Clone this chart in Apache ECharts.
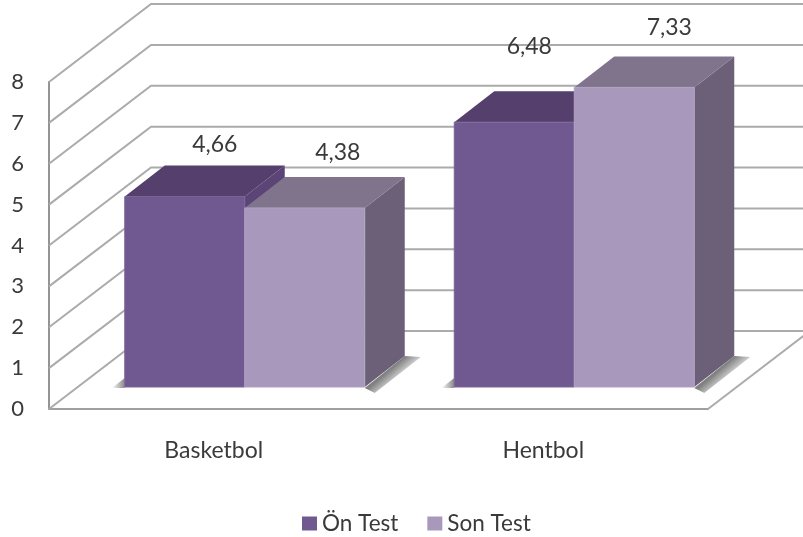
<!DOCTYPE html>
<html>
<head>
<meta charset="utf-8">
<style>
  html, body { margin: 0; padding: 0; background: #fff; }
  #main { width: 803px; height: 537px; }
</style>
<script src="https://cdn.jsdelivr.net/npm/echarts@6/dist/echarts.min.js"></script>
</head>
<body>
<div id="main"></div>
<script>
  const categories = ['Basketbol', 'Hentbol'];
  const onTest = [4.66, 6.48];
  const sonTest = [4.38, 7.33];
  const yTicks = [0, 1, 2, 3, 4, 5, 6, 7, 8];

  const fontName = 'Lato';
  const textColor = '#3a3a3a';
  const lineColor = '#ababab';

  // 3d look: wall depth and how far the bars sit inside the floor
  const wallDx = 102, wallDy = -78;
  const barInX = 31, barInY = -22;
  const barDx = 40, barDy = -31;
  const barShare = 120 / 329.5;

  // labels are hand placed in the original, not centered on the bars
  const onLabelShift = [[0, -32], [-15, -56]];
  const sonLabelShift = [[3, -35], [5, -40]];

  function fmt(v) {
    return String(v).replace('.', ',');
  }

  function poly(points, fill, z2) {
    return { type: 'polygon', z2: z2 || 0, shape: { points: points }, style: { fill: fill } };
  }

  function wallItem(params, api) {
    const left = params.coordSys.x;
    const y = api.coord([0, api.value(1)])[1];
    return {
      type: 'polyline',
      shape: { points: [[left, y], [left + wallDx, y + wallDy], [left + wallDx + 700, y + wallDy]] },
      style: { stroke: lineColor, lineWidth: 2, fill: null }
    };
  }

  function floorEdge(params) {
    const right = params.coordSys.x + params.coordSys.width;
    const bottom = params.coordSys.y + params.coordSys.height;
    return {
      type: 'group',
      children: [
        poly([[right, bottom], [right + wallDx, bottom + wallDy], [right + wallDx + 20, bottom + wallDy], [right + 20, bottom]], '#ffffff'),
        {
          type: 'line',
          shape: { x1: right, y1: bottom, x2: right + wallDx, y2: bottom + wallDy },
          style: { stroke: lineColor, lineWidth: 2 }
        }
      ]
    };
  }

  function barItem(colors, side, shifts) {
    return function (params, api) {
      const idx = api.value(0);
      const v = api.value(1);
      const w = api.size([1, 0])[0] * barShare;
      const center = api.coord([idx, 0])[0];
      const x0 = center + barInX + (side < 0 ? -w : 0);
      const x1 = x0 + w;
      const yBase = api.coord([idx, 0])[1] + barInY;
      const yTop = api.coord([idx, v])[1] + barInY;
      const children = [];

      // soft floor shadow
      if (side < 0) {
        children.push(poly([[x0 - 13, yBase + 1], [x0, yBase + 1], [x0, yBase - 9]], {
          type: 'linear', x: 1, y: 0, x2: 0, y2: 0,
          colorStops: [{ offset: 0, color: '#888' }, { offset: 1, color: '#fff' }]
        }));
      } else {
        children.push(poly([[x1, yBase + 1], [x1 + barDx, yBase + barDy], [x1 + barDx + 16, yBase + barDy + 1], [x1 + 10, yBase + 6]], {
          type: 'linear', x: 0.35, y: 0.5, x2: 0.55, y2: 0.85,
          colorStops: [{ offset: 0, color: '#808080' }, { offset: 1, color: '#fff' }]
        }));
      }

      children.push(poly([[x1, yTop], [x1 + barDx, yTop + barDy], [x1 + barDx, yBase + barDy], [x1, yBase]], colors.side));
      children.push(poly([[x0, yTop], [x0 + barDx, yTop + barDy], [x1 + barDx, yTop + barDy], [x1, yTop]], colors.top));
      children.push({
        type: 'rect',
        shape: { x: x0, y: yTop, width: w, height: yBase - yTop },
        style: { fill: colors.front, stroke: colors.edge, lineWidth: 1 }
      });
      children.push({
        type: 'text',
        z2: 10,
        style: {
          text: fmt(v),
          x: (x0 + x1) / 2 + 30 + shifts[idx][0],
          y: yTop + shifts[idx][1] - 20,
          fill: textColor,
          font: '23px ' + fontName,
          align: 'center',
          verticalAlign: 'middle'
        }
      });
      return { type: 'group', children: children };
    };
  }

  const onColors = { front: '#705890', top: '#553f6c', side: '#5b4577', edge: '#7a6499' };
  const sonColors = { front: '#a898bc', top: '#80748c', side: '#6b6077', edge: '#b0a2c2' };

  const chart = echarts.init(document.getElementById('main'));
  chart.setOption({
    animation: false,
    backgroundColor: '#fff',
    grid: { left: 49, right: 95, top: 82, bottom: 128 },
    legend: {
      data: ['Ön Test', 'Son Test'],
      left: 297,
      top: 507,
      itemWidth: 15,
      itemHeight: 14,
      itemGap: 29,
      icon: 'rect',
      textStyle: { fontFamily: fontName, fontSize: 22.5, color: textColor }
    },
    xAxis: {
      type: 'category',
      data: categories,
      axisTick: { show: false },
      axisLine: { lineStyle: { color: '#a0a0a0', width: 2 } },
      axisLabel: { margin: 30, fontFamily: fontName, fontSize: 23, color: textColor }
    },
    yAxis: {
      type: 'value',
      min: 0,
      max: 8,
      interval: 1,
      splitLine: { show: false },
      axisTick: { show: false },
      axisLine: { show: true, lineStyle: { color: '#949494', width: 2 } },
      axisLabel: { margin: 25, padding: [7, 0, 0, 0], fontFamily: fontName, fontSize: 22, color: textColor }
    },
    series: [
      {
        type: 'custom',
        name: 'walls',
        silent: true,
        z: 1,
        renderItem: wallItem,
        data: yTicks.map(function (t) { return [0, t]; })
      },
      {
        type: 'custom',
        name: 'floor',
        silent: true,
        z: 2,
        renderItem: floorEdge,
        data: [[0, 0]]
      },
      {
        type: 'custom',
        name: 'Ön Test',
        z: 3,
        itemStyle: { color: onColors.front },
        renderItem: barItem(onColors, -1, onLabelShift),
        data: onTest.map(function (v, i) { return [i, v]; })
      },
      {
        type: 'custom',
        name: 'Son Test',
        z: 4,
        itemStyle: { color: sonColors.front },
        renderItem: barItem(sonColors, 1, sonLabelShift),
        data: sonTest.map(function (v, i) { return [i, v]; })
      }
    ]
  });
</script>
</body>
</html>
